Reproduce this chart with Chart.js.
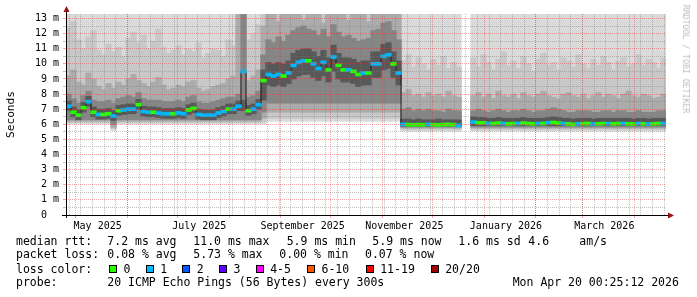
<!DOCTYPE html>
<html>
<head>
<meta charset="utf-8">
<script src="https://cdn.jsdelivr.net/npm/chart.js@4.4.1/dist/chart.umd.min.js"></script>
<style>
  html, body { margin: 0; padding: 0; background: #fff; }
  #wrap { position: relative; width: 697px; height: 297px; overflow: hidden; }
  #graph { position: absolute; left: 0; top: 0; }
  .lg { position: absolute; font-family: "DejaVu Sans Mono", monospace; font-size: 11.5px; line-height: 11px; color: #000; white-space: pre; }
  .sw { position: absolute; top: 265px; width: 6px; height: 6px; border: 1px solid #000; }
  #mark { position: absolute; left: 686px; top: 59px; transform: translate(-50%, -50%) rotate(90deg);
          font-family: "DejaVu Sans Mono", monospace; font-size: 8.2px; color: #bdbdbd; white-space: nowrap; }
</style>
</head>
<body>
<div id="wrap">
  <canvas id="graph" width="697" height="297"></canvas>

  <span class="lg" style="left:16px;top:235.5px">median rtt:</span>
  <span class="lg" style="left:107.3px;top:235.5px">7.2 ms avg</span>
  <span class="lg" style="left:193.3px;top:235.5px">11.0 ms max</span>
  <span class="lg" style="left:286.7px;top:235.5px">5.9 ms min</span>
  <span class="lg" style="left:372.3px;top:235.5px">5.9 ms now</span>
  <span class="lg" style="left:458.3px;top:235.5px">1.6 ms sd</span>
  <span class="lg" style="left:528.3px;top:235.5px">4.6</span>
  <span class="lg" style="left:579.3px;top:235.5px">am/s</span>

  <span class="lg" style="left:16px;top:249.2px">packet loss:</span>
  <span class="lg" style="left:107.3px;top:249.2px">0.08 % avg</span>
  <span class="lg" style="left:193.3px;top:249.2px">5.73 % max</span>
  <span class="lg" style="left:279.3px;top:249.2px">0.00 % min</span>
  <span class="lg" style="left:365px;top:249.2px">0.07 % now</span>

  <span class="lg" style="left:16px;top:263.5px">loss color:</span>
  <div id="lossLegend"></div>

  <span class="lg" style="left:16px;top:277.2px">probe:</span>
  <span class="lg" style="left:107.3px;top:277.2px">20 ICMP Echo Pings (56 Bytes) every 300s</span>
  <span class="lg" style="left:512.7px;top:277.2px">Mon Apr 20 00:25:12 2026</span>

  <div id="mark">RRDTOOL / TOBI OETIKER</div>
</div>

<script>
// time axis: days counted from May 1 2025, graph ends Apr 20 2026 00:25
const firstBucketDay = -5.98;
const lastDay = 354.02;
const bucketDays = 3;

const monthStartDays = [0, 31, 61, 92, 123, 153, 184, 214, 245, 276, 304, 335];
const axisLabels = ['May 2025', 'July 2025', 'September 2025', 'November 2025', 'January 2026', 'March 2026'];
const axisLabelDays = [13, 74, 136, 197, 258, 317];
const firstWeekDay = -4; // Sunday Apr 27 2025

// median rtt per 3-day bucket (ms)
const median = [
  7.2, 6.8, 6.6, 7.1, 7.5, 6.8, 6.65, 6.65, 6.7, 6.55,
  6.9, 6.95, 7.0, 7.0, 7.3, 6.85, 6.8, 6.8, 6.75, 6.7,
  6.7, 6.7, 6.75, 6.7, 6.95, 7.05, 6.65, 6.6, 6.6, 6.6,
  6.75, 6.85, 7.0, 7.0, 7.2, 9.5, 6.9, 7.0, 7.3,
  8.9,
  9.3, 9.2, 9.3, 9.2, 9.4, 9.9, 10.1, 10.2, 10.2, 10.0,
  9.7, 10.1, 9.6, 10.45, 9.9, 9.6, 9.6, 9.5, 9.3, 9.4,
  9.4, 10.0, 10.0, 10.5, 10.6, 10.0, 9.4,
  6.0, 5.98, 5.97, 5.98, 5.97, 6.0, 5.97, 5.96, 5.98, 6.0, 5.97, 5.93,
  null, null,
  6.15, 6.1, 6.1, 6.05, 6.05, 6.08, 6.05, 6.03, 6.05, 6.05,
  6.08, 6.05, 6.03, 6.05, 6.05, 6.1, 6.12, 6.08, 6.05, 6.03,
  6.0, 6.03, 6.05, 6.05, 6.02, 6.03, 6.05, 6.05, 6.03, 6.05,
  6.05, 6.03, 6.02, 6.05, 6.03, 6.02, 6.03, 6.05, 6.05
];

// lost pings (of 20) per bucket
const lossCount = [
  1, 0, 0, 0, 1, 0, 1, 0, 0, 1,
  0, 1, 1, 1, 0, 1, 1, 0, 1, 1,
  1, 0, 1, 1, 0, 0, 1, 1, 1, 1,
  1, 1, 0, 1, 1, 1, 0, 1, 1,
  0,
  1, 1, 1, 0, 1, 1, 1, 1, 0, 1,
  1, 1, 0, 1, 0, 0, 1, 0, 0, 1,
  0, 1, 1, 1, 1, 0, 1,
  1, 0, 0, 0, 0, 1, 0, 0, 0, 0, 0, 1,
  null, null,
  1, 0, 0, 1, 0, 0, 1, 0, 0, 1,
  0, 0, 0, 1, 0, 1, 0, 0, 1, 0,
  0, 1, 0, 0, 1, 0, 0, 1, 0, 0,
  1, 0, 0, 1, 0, 1, 0, 0, 1
];

// smoke bands, outermost (1) to innermost (5)
const band1Low = [
  6.05, 6.05, 6.05, 6.05, 6.05, 6.05, 6.05, 6.05, 6.05, 5.6,
  6.05, 6.05, 6.05, 6.05, 6.05, 6.05, 6.05, 6.05, 6.05, 6.05,
  6.05, 6.05, 6.05, 6.05, 6.05, 6.05, 6.05, 6.05, 6.05, 6.05,
  6.05, 6.05, 6.05, 6.05, 6.05, 6.05, 6.05, 6.05, 6.05,
  6.05,
  6.2, 6.2, 6.2, 6.2, 6.2, 6.2, 6.2, 6.2, 6.2, 6.2,
  6.2, 6.2, 6.2, 6.2, 6.2, 6.2, 6.2, 6.2, 6.2, 6.2,
  6.2, 6.2, 6.2, 6.2, 6.2, 6.2, 6.2,
  5.55, 5.55, 5.55, 5.55, 5.55, 5.55, 5.55, 5.55, 5.55, 5.55, 5.55, 5.55,
  null, null,
  5.55, 5.55, 5.55, 5.55, 5.55, 5.55, 5.55, 5.55, 5.55, 5.55,
  5.55, 5.55, 5.55, 5.55, 5.55, 5.55, 5.55, 5.55, 5.55, 5.55,
  5.55, 5.55, 5.55, 5.55, 5.55, 5.55, 5.55, 5.55, 5.55, 5.55,
  5.55, 5.55, 5.55, 5.55, 5.55, 5.55, 5.55, 5.55, 5.55
];
const band1High = [
  13.3, 13.3, 13.3, 13.3, 13.3, 13.3, 13.3, 13.3, 13.3, 13.3,
  13.3, 13.3, 13.3, 13.3, 13.3, 13.3, 13.3, 13.3, 13.3, 13.3,
  13.3, 13.3, 13.3, 13.3, 13.3, 13.3, 13.3, 13.3, 13.3, 13.3,
  13.3, 13.3, 13.3, 13.3, 13.3, 13.3, 13.3, 13.3, 13.3,
  13.3,
  13.3, 13.3, 13.3, 13.3, 13.3, 13.3, 13.3, 13.3, 13.3, 13.3,
  13.3, 13.3, 13.3, 13.3, 13.3, 13.3, 13.3, 13.3, 13.3, 13.3,
  13.3, 13.3, 13.3, 13.3, 13.3, 13.3, 13.3,
  13.3, 13.3, 13.3, 13.3, 13.3, 13.3, 13.3, 13.3, 13.3, 13.3, 13.3, 13.3,
  null, null,
  13.3, 13.3, 13.3, 13.3, 13.3, 13.3, 13.3, 13.3, 13.3, 13.3,
  13.3, 13.3, 13.3, 13.3, 13.3, 13.3, 13.3, 13.3, 13.3, 13.3,
  13.3, 13.3, 13.3, 13.3, 13.3, 13.3, 13.3, 13.3, 13.3, 13.3,
  13.3, 13.3, 13.3, 13.3, 13.3, 13.3, 13.3, 13.3, 13.3
];
const band2Low = [
  6.1, 6.1, 6.1, 6.1, 6.1, 6.1, 6.1, 6.1, 6.1, 5.7,
  6.1, 6.1, 6.1, 6.1, 6.1, 6.1, 6.1, 6.1, 6.1, 6.1,
  6.1, 6.1, 6.1, 6.1, 6.1, 6.1, 6.1, 6.1, 6.1, 6.1,
  6.1, 6.1, 6.1, 6.1, 6.1, 6.1, 6.1, 6.1, 6.1,
  6.15,
  6.4, 6.4, 6.4, 6.4, 6.4, 6.4, 6.4, 6.4, 6.4, 6.4,
  6.4, 6.4, 6.4, 6.4, 6.4, 6.4, 6.4, 6.4, 6.4, 6.4,
  6.4, 6.4, 6.4, 6.4, 6.4, 6.4, 6.4,
  5.65, 5.65, 5.65, 5.65, 5.65, 5.65, 5.65, 5.65, 5.65, 5.65, 5.65, 5.65,
  null, null,
  5.65, 5.65, 5.65, 5.65, 5.65, 5.65, 5.65, 5.65, 5.65, 5.65,
  5.65, 5.65, 5.65, 5.65, 5.65, 5.65, 5.65, 5.65, 5.65, 5.65,
  5.65, 5.65, 5.65, 5.65, 5.65, 5.65, 5.65, 5.65, 5.65, 5.65,
  5.65, 5.65, 5.65, 5.65, 5.65, 5.65, 5.65, 5.65, 5.65
];
const band2High = [
  12.4, 12.8, 11.6, 11.0, 11.8, 12.2, 10.9, 10.6, 11.3, 10.8,
  11.1, 10.5, 11.7, 12.1, 11.4, 11.9, 11.0, 11.5, 12.3, 11.1,
  10.7, 10.9, 11.2, 10.6, 11.0, 10.8, 11.4, 10.4, 10.7, 11.0,
  10.9, 10.5, 11.6, 11.2, 12.4, 13.3, 11.6, 12.0, 12.6,
  13.3,
  13.3, 13.3, 13.3, 13.3, 13.3, 13.3, 13.3, 13.3, 13.3, 13.3,
  13.3, 13.3, 13.3, 13.3, 13.3, 13.3, 13.3, 13.3, 13.3, 13.3,
  13.3, 13.3, 13.3, 13.3, 13.3, 13.3, 13.3,
  10.2, 10.6, 9.8, 10.4, 10.0, 9.6, 10.3, 9.9, 10.5, 9.7, 10.1, 9.8,
  null, null,
  10.4, 9.8, 10.6, 10.1, 9.6, 10.3, 10.8, 9.9, 10.2, 9.7,
  10.5, 10.0, 9.5, 10.3, 10.7, 9.9, 10.1, 9.6, 10.4, 10.2,
  9.8, 10.6, 10.0, 9.7, 10.3, 9.9, 10.5, 10.1, 9.6, 10.2,
  10.4, 9.8, 10.0, 10.6, 9.9, 10.3, 10.1, 9.7, 10.4
];
const band3Low = [
  6.2, 6.2, 6.2, 6.2, 6.2, 6.2, 6.2, 6.2, 6.2, 5.8,
  6.2, 6.2, 6.2, 6.2, 6.2, 6.2, 6.2, 6.2, 6.2, 6.2,
  6.2, 6.2, 6.2, 6.2, 6.2, 6.2, 6.2, 6.2, 6.2, 6.2,
  6.2, 6.2, 6.2, 6.2, 6.2, 6.2, 6.2, 6.2, 6.2,
  6.4,
  6.8, 6.8, 6.8, 6.8, 6.8, 6.8, 6.8, 6.8, 6.8, 6.8,
  6.8, 6.8, 6.8, 6.8, 6.8, 6.8, 6.8, 6.8, 6.8, 6.8,
  6.8, 6.8, 6.8, 6.8, 6.8, 6.8, 6.8,
  5.75, 5.75, 5.75, 5.75, 5.75, 5.75, 5.75, 5.75, 5.75, 5.75, 5.75, 5.75,
  null, null,
  5.75, 5.75, 5.75, 5.75, 5.75, 5.75, 5.75, 5.75, 5.75, 5.75,
  5.75, 5.75, 5.75, 5.75, 5.75, 5.75, 5.75, 5.75, 5.75, 5.75,
  5.75, 5.75, 5.75, 5.75, 5.75, 5.75, 5.75, 5.75, 5.75, 5.75,
  5.75, 5.75, 5.75, 5.75, 5.75, 5.75, 5.75, 5.75, 5.75
];
const band3High = [
  9.2, 9.6, 8.8, 8.6, 9.4, 9.0, 8.5, 8.3, 8.7, 8.4,
  8.8, 8.6, 9.0, 9.3, 8.9, 8.7, 8.5, 8.8, 9.1, 8.6,
  8.3, 8.4, 8.6, 8.5, 8.8, 8.9, 8.4, 8.2, 8.3, 8.5,
  8.6, 8.7, 9.0, 9.2, 13.3, 13.3, 8.9, 9.2, 9.6,
  12.5,
  13.3, 13.3, 12.8, 13.3, 13.3, 13.3, 13.3, 12.9, 13.3, 13.3,
  13.3, 12.7, 13.3, 13.3, 13.3, 13.3, 12.9, 13.3, 13.3, 13.3,
  12.8, 13.3, 13.3, 13.3, 13.3, 13.3, 13.3,
  8.1, 8.3, 7.9, 8.0, 7.8, 8.1, 7.9, 8.0, 7.8, 8.2, 7.9, 7.8,
  null, null,
  7.9, 8.1, 7.8, 8.0, 7.7, 8.2, 7.9, 7.8, 8.0, 7.7,
  8.1, 7.9, 7.8, 8.0, 8.2, 7.9, 7.8, 7.7, 8.0, 8.1,
  7.9, 7.8, 8.0, 7.7, 7.9, 8.1, 7.8, 8.0, 7.9, 7.7,
  8.0, 8.2, 7.9, 7.8, 8.0, 7.9, 7.7, 7.8, 8.0
];
const band4Low = [
  6.3, 6.3, 6.3, 6.3, 6.3, 6.3, 6.3, 6.3, 6.3, 6.0,
  6.3, 6.3, 6.3, 6.3, 6.3, 6.3, 6.3, 6.3, 6.3, 6.3,
  6.3, 6.3, 6.3, 6.3, 6.3, 6.3, 6.3, 6.3, 6.3, 6.3,
  6.3, 6.3, 6.3, 6.3, 6.3, 6.3, 6.3, 6.3, 6.3,
  6.8,
  7.4, 7.4, 7.4, 7.4, 7.4, 7.4, 7.4, 7.4, 7.4, 7.4,
  7.4, 7.4, 7.4, 7.4, 7.4, 7.4, 7.4, 7.4, 7.4, 7.4,
  7.4, 7.4, 7.4, 7.4, 7.4, 7.4, 7.4,
  5.82, 5.82, 5.82, 5.82, 5.82, 5.82, 5.82, 5.82, 5.82, 5.82, 5.82, 5.82,
  null, null,
  5.82, 5.82, 5.82, 5.82, 5.82, 5.82, 5.82, 5.82, 5.82, 5.82,
  5.82, 5.82, 5.82, 5.82, 5.82, 5.82, 5.82, 5.82, 5.82, 5.82,
  5.82, 5.82, 5.82, 5.82, 5.82, 5.82, 5.82, 5.82, 5.82, 5.82,
  5.82, 5.82, 5.82, 5.82, 5.82, 5.82, 5.82, 5.82, 5.82
];
const band4High = [
  8.0, 7.7, 7.4, 7.9, 8.2, 7.6, 7.5, 7.5, 7.6, 7.4,
  7.7, 7.8, 7.9, 7.8, 8.1, 7.7, 7.6, 7.6, 7.6, 7.5,
  7.5, 7.5, 7.6, 7.5, 7.8, 7.9, 7.5, 7.4, 7.4, 7.5,
  7.6, 7.7, 7.8, 7.8, 8.0, 13.3, 7.8, 7.9, 8.2,
  10.6,
  11.6, 11.4, 11.8, 11.5, 11.9, 12.2, 12.4, 12.5, 12.3, 12.2,
  11.9, 12.3, 11.8, 12.6, 12.1, 11.8, 11.9, 11.7, 11.5, 11.6,
  11.7, 12.2, 12.3, 12.7, 12.8, 12.2, 11.6,
  7.0, 7.1, 6.9, 7.0, 6.9, 7.0, 6.9, 6.9, 6.8, 7.0, 6.9, 6.9,
  null, null,
  6.9, 7.0, 6.9, 6.8, 6.9, 7.0, 6.9, 6.8, 6.9, 6.9,
  7.0, 6.9, 6.8, 6.9, 6.9, 7.0, 7.1, 7.0, 6.9, 6.8,
  6.8, 6.9, 6.9, 6.9, 6.8, 6.8, 6.9, 6.9, 6.8, 6.9,
  6.9, 6.8, 6.8, 6.9, 6.8, 6.8, 6.8, 6.9, 6.9
];
const band5Low = [
  6.9, 6.5, 6.3, 6.8, 7.2, 6.5, 6.35, 6.35, 6.4, 6.25,
  6.6, 6.65, 6.7, 6.7, 7.0, 6.55, 6.5, 6.5, 6.45, 6.4,
  6.4, 6.4, 6.45, 6.4, 6.65, 6.75, 6.35, 6.3, 6.3, 6.3,
  6.45, 6.55, 6.7, 6.7, 6.9, 6.9, 6.6, 6.7, 7.0,
  7.6,
  8.6, 8.5, 8.6, 8.5, 8.7, 9.0, 9.2, 9.3, 9.3, 9.1,
  8.9, 9.2, 8.8, 9.5, 9.0, 8.8, 8.8, 8.7, 8.5, 8.6,
  8.6, 9.1, 9.1, 9.6, 9.7, 9.1, 8.6,
  5.88, 5.88, 5.88, 5.88, 5.88, 5.88, 5.88, 5.88, 5.88, 5.88, 5.88, 5.88,
  null, null,
  5.92, 5.92, 5.92, 5.92, 5.92, 5.92, 5.92, 5.92, 5.92, 5.92,
  5.92, 5.92, 5.92, 5.92, 5.92, 5.92, 5.92, 5.92, 5.92, 5.92,
  5.92, 5.92, 5.92, 5.92, 5.92, 5.92, 5.92, 5.92, 5.92, 5.92,
  5.92, 5.92, 5.92, 5.92, 5.92, 5.92, 5.92, 5.92, 5.92
];
const band5High = [
  7.55, 7.15, 6.95, 7.45, 7.85, 7.15, 7.0, 7.0, 7.05, 6.9,
  7.25, 7.3, 7.35, 7.35, 7.65, 7.2, 7.15, 7.15, 7.1, 7.05,
  7.05, 7.05, 7.1, 7.05, 7.3, 7.4, 7.0, 6.95, 6.95, 6.95,
  7.1, 7.2, 7.35, 7.35, 7.55, 7.6, 7.25, 7.35, 7.65,
  9.6,
  10.1, 10.0, 10.1, 10.0, 10.2, 10.7, 10.9, 11.0, 11.0, 10.8,
  10.5, 10.9, 10.4, 11.25, 10.7, 10.4, 10.4, 10.3, 10.1, 10.2,
  10.2, 10.8, 10.8, 11.3, 11.4, 10.8, 10.2,
  6.35, 6.35, 6.3, 6.35, 6.3, 6.3, 6.3, 6.35, 6.3, 6.3, 6.3, 6.3,
  null, null,
  6.5, 6.45, 6.45, 6.4, 6.4, 6.45, 6.4, 6.4, 6.4, 6.4,
  6.45, 6.4, 6.4, 6.4, 6.4, 6.45, 6.5, 6.45, 6.4, 6.4,
  6.35, 6.4, 6.4, 6.4, 6.35, 6.4, 6.4, 6.4, 6.4, 6.4,
  6.4, 6.4, 6.35, 6.4, 6.4, 6.35, 6.4, 6.4, 6.4
];

const lossLabels = ['0', '1', '2', '3', '4-5', '6-10', '11-19', '20/20'];
const lossColors = ['#26ff00', '#00b8ff', '#0059ff', '#5e00ff', '#ff00ff', '#ff5500', '#ff0000', '#a10000'];

// loss colour legend row
const swatchX = [109, 145.7, 182.3, 219, 255.7, 307, 365.7, 430.7];
const legendRow = document.getElementById('lossLegend');
lossLabels.forEach((label, i) => {
  const box = document.createElement('div');
  box.className = 'sw';
  box.style.left = swatchX[i] + 'px';
  box.style.background = lossColors[i];
  legendRow.appendChild(box);
  const txt = document.createElement('span');
  txt.className = 'lg';
  txt.style.left = (swatchX[i] + 14.5) + 'px';
  txt.style.top = '263.5px';
  txt.textContent = label;
  legendRow.appendChild(txt);
});

const xAt = i => firstBucketDay + bucketDays * (i + 0.5);
const bandPoints = (lows, highs) => lows.map((lo, i) => ({ x: xAt(i), y: lo === null ? null : [lo, highs[i]] }));

// ticks for the time axis: weekly minor lines, monthly major lines, labels mid-month
const xTickDefs = [];
for (let d = firstWeekDay; d < lastDay; d += 7) xTickDefs.push({ value: d, kind: 'minor' });
monthStartDays.forEach(d => xTickDefs.push({ value: d, kind: 'major' }));
axisLabelDays.forEach((d, i) => xTickDefs.push({ value: d, kind: 'label', label: axisLabels[i] }));

const yTickValues = [];
for (let v = 0; v <= 13; v += 0.5) yTickValues.push(v);

const majorGrid = 'rgba(235, 40, 40, 0.42)';
const minorGrid = 'rgba(120, 120, 120, 0.45)';

const smokeColors = ['#dadada', '#c8c8c8', '#ababab', '#868686', '#585858'];
const bands = [[band1Low, band1High], [band2Low, band2High], [band3Low, band3High], [band4Low, band4High], [band5Low, band5High]];

const datasets = bands.map(([lo, hi], k) => ({
  type: 'bar',
  data: bandPoints(lo, hi),
  backgroundColor: smokeColors[k],
  borderWidth: 0,
  grouped: false,
  barThickness: 5.6,
  order: 10 - k
}));

datasets.push({
  type: 'line',
  data: median.map((m, i) => ({ x: xAt(i), y: m })),
  borderColor: '#1e1e1e',
  borderWidth: 1,
  stepped: 'middle',
  pointRadius: 0,
  spanGaps: false,
  order: 2
});

datasets.push({
  type: 'bar',
  data: median.map((m, i) => ({ x: xAt(i), y: m === null ? null : [m - 0.1, m + 0.1] })),
  backgroundColor: ctx => lossColors[lossCount[ctx.dataIndex] || 0],
  borderWidth: 0,
  grouped: false,
  barThickness: 5.6,
  order: 1
});

// axis lines with the little red arrows, drawn over everything
const rrdAxes = {
  id: 'rrdAxes',
  afterDraw(chart) {
    const { ctx, chartArea: a } = chart;
    const x0 = a.left + 0.5, y0 = a.bottom + 0.5;
    ctx.save();
    ctx.strokeStyle = '#000';
    ctx.lineWidth = 1;
    ctx.beginPath();
    ctx.moveTo(a.left - 4, y0); ctx.lineTo(a.right + 2, y0);
    ctx.moveTo(x0, a.bottom + 3); ctx.lineTo(x0, a.top - 2);
    ctx.stroke();
    ctx.fillStyle = '#9a1010';
    ctx.beginPath();
    ctx.moveTo(x0 - 3, a.top - 2); ctx.lineTo(x0 + 3, a.top - 2); ctx.lineTo(x0, a.top - 8); ctx.closePath();
    ctx.fill();
    ctx.beginPath();
    ctx.moveTo(a.right + 2, y0 - 3); ctx.lineTo(a.right + 2, y0 + 3); ctx.lineTo(a.right + 8, y0); ctx.closePath();
    ctx.fill();
    ctx.restore();
  }
};

Chart.defaults.font.family = "'DejaVu Sans Mono', monospace";
Chart.defaults.color = '#000';

new Chart(document.getElementById('graph'), {
  type: 'bar',
  data: { datasets },
  plugins: [rrdAxes],
  options: {
    responsive: false,
    devicePixelRatio: 1,
    animation: false,
    events: [],
    layout: { padding: { top: 14, right: 31, left: 0, bottom: 0 } },
    plugins: { legend: { display: false }, tooltip: { enabled: false } },
    scales: {
      x: {
        type: 'linear',
        min: firstBucketDay,
        max: lastDay,
        offset: false,
        afterBuildTicks: s => { s.ticks = xTickDefs.map(t => ({ value: t.value })); },
        afterFit: s => { s.height = 82; },
        ticks: {
          autoSkip: false,
          maxRotation: 0,
          padding: 2,
          font: { size: 10 },
          color: '#000',
          callback: (v, i) => (xTickDefs[i] && xTickDefs[i].label) || ''
        },
        grid: {
          z: 1,
          offset: false,
          lineWidth: 1,
          tickLength: 3,
          color: ctx => {
            const t = xTickDefs[ctx.index];
            if (!t) return minorGrid;
            return t.kind === 'major' ? majorGrid : t.kind === 'minor' ? minorGrid : 'rgba(0,0,0,0)';
          },
          tickColor: ctx => {
            const t = xTickDefs[ctx.index];
            return t && t.kind === 'major' ? majorGrid : 'rgba(0,0,0,0)';
          }
        },
        border: { display: false, dash: [1, 1] }
      },
      y: {
        type: 'linear',
        min: 0,
        max: 13.3,
        afterBuildTicks: s => { s.ticks = yTickValues.map(v => ({ value: v })); },
        afterFit: s => { s.width = 66; },
        ticks: {
          autoSkip: false,
          padding: 4,
          font: { size: 10 },
          color: '#000',
          callback: v => v === 0 ? '0  ' : (Number.isInteger(v) ? v + ' m' : '')
        },
        grid: {
          z: 1,
          lineWidth: 1,
          tickLength: 3,
          color: ctx => (ctx.tick && Number.isInteger(ctx.tick.value)) ? majorGrid : minorGrid,
          tickColor: ctx => (ctx.tick && Number.isInteger(ctx.tick.value)) ? majorGrid : minorGrid
        },
        border: { display: false, dash: [1, 1] },
        title: {
          display: true,
          text: 'Seconds',
          color: '#000',
          font: { size: 11.2 },
          padding: { top: 4, bottom: 0 }
        }
      }
    }
  }
});
</script>
</body>
</html>
